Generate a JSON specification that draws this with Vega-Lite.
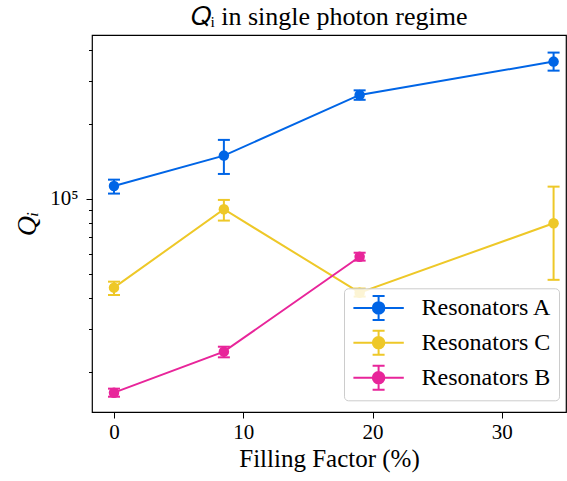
{
  "$schema": "https://vega.github.io/schema/vega-lite/v6.json",
  "width": 474,
  "height": 377,
  "autosize": {"type": "none"},
  "padding": {"left": 92, "top": 35, "right": 1, "bottom": 69},
  "background": "white",
  "config": {
    "font": "Liberation Serif",
    "view": {"stroke": "black", "strokeWidth": 1.2}
  },
  "title": {
    "text": "𝑄ᵢ in single photon regime",
    "font": "Liberation Serif",
    "fontSize": 26,
    "fontWeight": "normal",
    "color": "black",
    "baseline": "alphabetic",
    "offset": -16,
    "anchor": "middle"
  },
  "data": {
    "values": [
      {"group": "Resonators A", "ff": 0, "q": 112800, "lo": 105100, "hi": 119600},
      {"group": "Resonators A", "ff": 8.5, "q": 149500, "lo": 126100, "hi": 173000},
      {"group": "Resonators A", "ff": 19, "q": 262600, "lo": 251000, "hi": 274000},
      {"group": "Resonators A", "ff": 34, "q": 357800, "lo": 329000, "hi": 389000},
      {"group": "Resonators C", "ff": 0, "q": 43900, "lo": 41000, "hi": 46400},
      {"group": "Resonators C", "ff": 8.5, "q": 90900, "lo": 81800, "hi": 99100},
      {"group": "Resonators C", "ff": 19, "q": 41900, "lo": 40400, "hi": 43500},
      {"group": "Resonators C", "ff": 34, "q": 79800, "lo": 47200, "hi": 112100},
      {"group": "Resonators B", "ff": 0, "q": 16560, "lo": 15950, "hi": 17190},
      {"group": "Resonators B", "ff": 8.5, "q": 24230, "lo": 22990, "hi": 25370},
      {"group": "Resonators B", "ff": 19, "q": 58500, "lo": 56400, "hi": 60700}
    ]
  },
  "encoding": {
    "x": {
      "field": "ff",
      "type": "quantitative",
      "scale": {"domain": [-1.7, 34.96], "nice": false, "zero": false},
      "axis": {
        "values": [0, 10, 20, 30],
        "title": "Filling Factor (%)",
        "titleFont": "Liberation Serif",
        "titleFontSize": 25,
        "titleFontWeight": "normal",
        "titleColor": "black",
        "titlePadding": 4,
        "labelFont": "Liberation Serif",
        "labelFontSize": 21,
        "labelColor": "black",
        "labelPadding": 3,
        "tickSize": 6,
        "tickColor": "black",
        "tickWidth": 1,
        "domain": false,
        "grid": false
      }
    },
    "color": {
      "field": "group",
      "type": "nominal",
      "scale": {
        "domain": ["Resonators A", "Resonators C", "Resonators B"],
        "range": ["#0065E6", "#EEC828", "#E8259A"]
      },
      "legend": {
        "title": null,
        "orient": "none",
        "legendX": 252,
        "legendY": 253.3,
        "padding": 6.6,
        "fillColor": "rgba(255,255,255,0.8)",
        "strokeColor": "#cccccc",
        "cornerRadius": 4,
        "symbolType": "M-2.1,0H2.1M0,-1V1M-0.5,-1H0.5M-0.5,1H0.5M0.48,0A0.48,0.48 0 1,1 -0.48,0A0.48,0.48 0 1,1 0.48,0Z",
        "symbolSize": 576,
        "symbolStrokeWidth": 2,
        "symbolOffset": 15,
        "symbolOpacity": 1,
        "labelFont": "Liberation Serif",
        "labelFontSize": 24,
        "labelColor": "black",
        "labelOffset": 30,
        "rowPadding": 2.9,
        "labelLimit": 300,
        "encode": {
          "symbols": {
            "update": {
              "fill": {"scale": "color", "field": "value"},
              "stroke": {"scale": "color", "field": "value"},
              "opacity": {"value": 1}
            }
          }
        }
      }
    }
  },
  "layer": [
    {
      "mark": {"type": "rule", "strokeWidth": 2},
      "encoding": {
        "y": {"field": "lo", "type": "quantitative", "scale": {"type": "log", "domain": [13840, 458000], "nice": false}},
        "y2": {"field": "hi"}
      }
    },
    {
      "mark": {"type": "tick", "orient": "horizontal", "size": 12, "thickness": 2, "opacity": 1},
      "encoding": {"y": {"field": "lo", "type": "quantitative"}}
    },
    {
      "mark": {"type": "tick", "orient": "horizontal", "size": 12, "thickness": 2, "opacity": 1},
      "encoding": {"y": {"field": "hi", "type": "quantitative"}}
    },
    {
      "mark": {"type": "line", "strokeWidth": 2},
      "encoding": {"y": {"field": "q", "type": "quantitative"}}
    },
    {
      "mark": {"type": "point", "filled": true, "size": 110, "opacity": 1, "shape": "circle"},
      "encoding": {
        "y": {
          "field": "q",
          "type": "quantitative",
          "axis": {
            "values": [20000, 30000, 40000, 50000, 60000, 70000, 80000, 90000, 100000, 200000, 300000, 400000],
            "labelExpr": "datum.value == 100000 ? '10⁵' : ''",
            "title": "Qᵢ",
            "titleFont": "Liberation Serif",
            "titleFontSize": 28,
            "titleFontStyle": "italic",
            "titleFontWeight": "normal",
            "titleColor": "black",
            "titlePadding": 8,
            "labelFont": "Liberation Serif",
            "labelFontSize": 21,
            "labelColor": "black",
            "labelPadding": 8,
            "tickSize": {"condition": {"test": "datum.value == 100000", "value": 6}, "value": 3.5},
            "tickColor": "black",
            "tickWidth": 1,
            "domain": false,
            "grid": false
          }
        }
      }
    }
  ]
}
